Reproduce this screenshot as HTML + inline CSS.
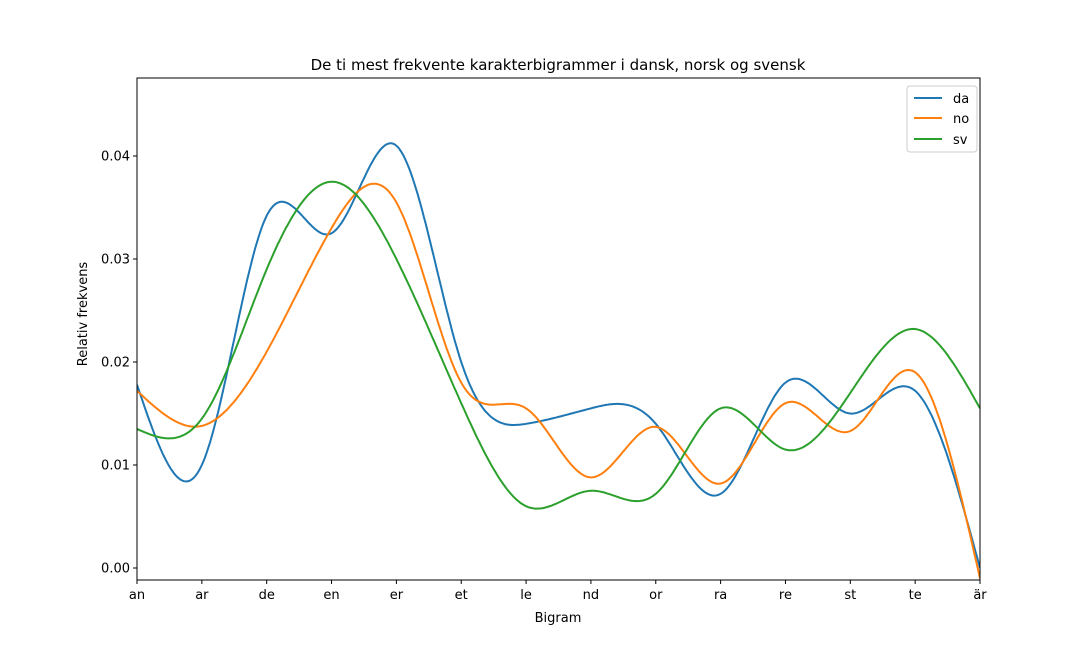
<!DOCTYPE html>
<html><head><meta charset="utf-8"><style>
body{margin:0;background:#fff;}
svg text{font-family:"DejaVu Sans","Liberation Sans",sans-serif;}
</style></head><body>
<svg id="c" width="1091" height="653" xmlns="http://www.w3.org/2000/svg">
<text x="558" y="70" text-anchor="middle" font-size="15">De ti mest frekvente karakterbigrammer i dansk, norsk og svensk</text>
<text x="558" y="622" text-anchor="middle" font-size="13">Bigram</text>
<text transform="translate(87,314) rotate(-90)" text-anchor="middle" font-size="13">Relativ frekvens</text>
<g id="plot"></g>
<rect x="137" y="78" width="843" height="502" fill="none" stroke="#000" stroke-width="1"/>
<g>
<rect x="907" y="86" width="70" height="66" fill="#fff" stroke="#ccc" rx="3"/>
<line x1="914" y1="98" x2="942" y2="98" stroke="#1f77b4" stroke-width="2"/>
<text x="953" y="103" font-size="13">da</text>
<line x1="914" y1="118" x2="942" y2="118" stroke="#ff7f0e" stroke-width="2"/>
<text x="953" y="123" font-size="13">no</text>
<line x1="914" y1="139" x2="942" y2="139" stroke="#2ca02c" stroke-width="2"/>
<text x="953" y="144" font-size="13">sv</text>
</g>
</svg>
<script>
const categories=["an","ar","de","en","er","et","le","nd","or","ra","re","st","te","är"];
const da=[0.0178,0.0100,0.0342,0.0325,0.0410,0.0200,0.0140,0.0155,0.0140,0.0072,0.0180,0.0150,0.0172,0.0];
const no=[0.0172,0.0138,0.0210,0.0330,0.0355,0.0180,0.0155,0.0088,0.0137,0.0082,0.0160,0.0133,0.0190,-0.001];
const sv=[0.0135,0.0145,0.0290,0.0375,0.0300,0.0160,0.0060,0.0075,0.0072,0.0155,0.0115,0.0170,0.0232,0.0155];
const yTicks=[0,0.01,0.02,0.03,0.04];
const yTickLabels=["0.00","0.01","0.02","0.03","0.04"];
const X0=137,X1=980,YT=78,YB=580;
function xs(i){return X0+i*(X1-X0)/(categories.length-1);}
function ys(v){return 568-v*10300;}
const NS="http://www.w3.org/2000/svg";
const svg=document.getElementById('c'),plot=document.getElementById('plot');
function el(t,a,p){const e=document.createElementNS(NS,t);for(const k in a)e.setAttribute(k,a[k]);(p||svg).appendChild(e);return e;}
yTicks.forEach((v,i)=>{
 const l=el('line',{x1:X0-4,x2:X0,y1:ys(v),y2:ys(v),stroke:'#000'});
 
 
 const t=el('text',{x:X0-7,y:ys(v)+4.5,'text-anchor':'end','font-size':13});
 t.textContent=yTickLabels[i];
 
 
});
categories.forEach((c,i)=>{
 const l=el('line',{x1:xs(i),x2:xs(i),y1:YB,y2:YB+4,stroke:'#000'});
 
 
 const t=el('text',{x:xs(i),y:YB+19,'text-anchor':'middle','font-size':13});
 t.textContent=c;
 
 
});
function spline(y){
 const n=y.length,M=new Array(n).fill(0);
 const a=[],b=[],c=[],d=[];
 for(let i=1;i<n-1;i++){a.push(1);b.push(4);c.push(1);d.push(6*(y[i+1]-2*y[i]+y[i-1]));}
 const m=d.length;
 for(let i=1;i<m;i++){const w=a[i]/b[i-1];b[i]-=w*c[i-1];d[i]-=w*d[i-1];}
 const s=new Array(m);s[m-1]=d[m-1]/b[m-1];
 for(let i=m-2;i>=0;i--)s[i]=(d[i]-c[i]*s[i+1])/b[i];
 for(let i=0;i<m;i++)M[i+1]=s[i];
 const pts=[];
 for(let i=0;i<n-1;i++){for(let k=0;k<40;k++){const t=k/40;
  const v=(1-t)*y[i]+t*y[i+1]+((1-t)**3-(1-t))*M[i]/6+(t**3-t)*M[i+1]/6;
  pts.push([xs(i+t),ys(v)]);}}
 pts.push([xs(n-1),ys(y[n-1])]);
 return pts;
}
const clip=el('clipPath',{id:'cp'});
el('rect',{x:X0,y:YT,width:X1-X0,height:YB-YT},clip);
[[da,'#1f77b4','line-da'],[no,'#ff7f0e','line-no'],[sv,'#2ca02c','line-sv']].forEach(([s,col,nm])=>{
 const p=el('path',{d:'M'+spline(s).map(q=>q[0].toFixed(1)+','+q[1].toFixed(1)).join('L'),fill:'none',stroke:col,'stroke-width':2,'clip-path':'url(#cp)'},plot);
 
 
});
</script>
</body></html>
